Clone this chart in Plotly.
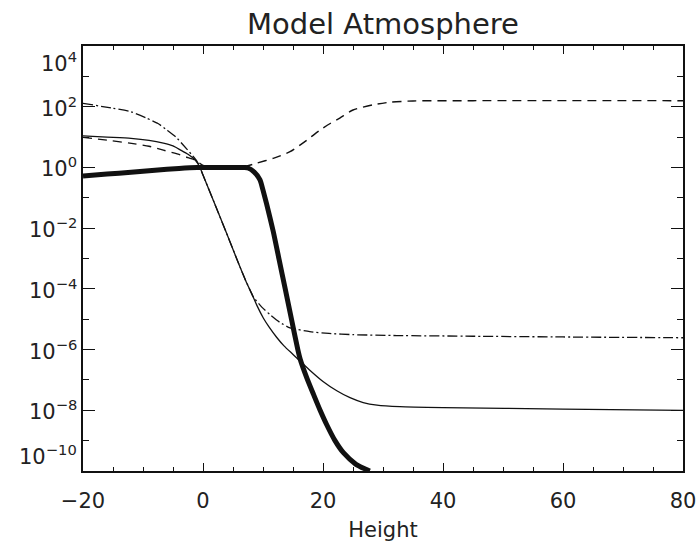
import plotly.graph_objects as go
import math

# ---------------- data ----------------
thick_h = [-20, -16, -12, -8, -4, -1, 2, 5, 7, 7.5, 8.5, 9.5, 10.0, 10.6, 11.7, 12.7,
           13.7, 14.8, 15.8, 16.2, 17.3, 18.4, 19.5, 20.6, 22, 23.4, 25.5, 27.8]
thick_v = [0.525, 0.603, 0.69, 0.81, 0.93, 1.0, 1.0, 1.0, 0.99, 0.955, 0.71, 0.39, 0.178,
           0.063, 7.9e-3, 8.9e-4, 1.0e-4, 8.9e-6, 1.0e-6, 4.8e-7, 1.17e-7, 3.4e-8, 1.02e-8,
           3.4e-9, 1.0e-9, 4.0e-10, 1.66e-10, 1.0e-10]

thin_h = [-20, -16, -12, -9, -6.6, -5, -3.8, -2.5, -1.3, -0.5, 0, 2, 4, 5.6, 7.1, 8.1, 9,
          10.05, 11, 12.3, 13.5, 15.05, 16.2, 17.8, 20, 22.3, 24.5, 26.7, 29, 32.8, 40, 60, 80]
thin_v = [11.0, 10.0, 9.1, 7.8, 6.3, 5.1, 3.8, 2.7, 1.76, 1.0, 0.56, 0.060, 6.3e-3, 1.0e-3,
          1.9e-4, 7.1e-5, 2.8e-5, 1.1e-5, 5.6e-6, 2.5e-6, 1.32e-6, 6.8e-7, 4.1e-7, 2.1e-7,
          8.9e-8, 4.4e-8, 2.6e-8, 1.8e-8, 1.48e-8, 1.32e-8, 1.23e-8, 1.1e-8, 1.0e-8]

dashdot_h = [-20, -15, -12, -9.4, -7.5, -6, -4.5, -3.3, -2, -1.05, -0.5, 0, 2, 4, 5.6, 7.1,
             8.4, 9.8, 11.2, 12.8, 14.5, 17.8, 21, 25, 32.3, 45, 60, 80]
dashdot_v = [129, 89, 68, 42, 28, 17, 10, 5.5, 2.8, 1.66, 1.0, 0.56, 0.060, 6.3e-3, 1.0e-3,
             1.9e-4, 5.4e-5, 2.5e-5, 1.4e-5, 7.9e-6, 5.2e-6, 3.9e-6, 3.4e-6, 3.1e-6, 2.9e-6,
             2.75e-6, 2.6e-6, 2.45e-6]

dashed_h = [-20, -16, -12.2, -9, -6.6, -3.8, -2.5, -1.3, 0, 2, 5, 7, 8.95, 11.7, 14.5, 17.3,
            19.5, 21.2, 22.8, 25, 28.3, 31.2, 35, 45, 80]
dashed_v = [9.8, 7.9, 6.3, 5.0, 3.7, 2.6, 2.1, 1.76, 1.17, 1.02, 1.0, 1.07, 1.38, 2.0, 3.3,
            7.9, 17, 28, 42, 78, 115, 141, 155, 158, 158]

x_tick_vals = [-20, 0, 20, 40, 60, 80]
x_tick_text = ["\u221220", "0", "20", "40", "60", "80"]
y_tick_vals = [1e4, 1e2, 1e0, 1e-2, 1e-4, 1e-6, 1e-8, 1e-10]
y_tick_text = ["10<sup>4</sup>", "10<sup>2</sup>", "10<sup>0</sup>", "10<sup>\u22122</sup>",
               "10<sup>\u22124</sup>", "10<sup>\u22126</sup>", "10<sup>\u22128</sup>",
               "10<sup>\u221210</sup>"]
y_minor_vals = [1e3, 1e1, 1e-1, 1e-3, 1e-5, 1e-7, 1e-9]

title_text = "Model Atmosphere"
x_title = "Height"

# ---------------- figure ----------------
INK = "#111111"
TXT = "#222222"
FONT = "DejaVu Sans"

fig = go.Figure()
fig.add_trace(go.Scatter(x=dashed_h, y=dashed_v, mode="lines",
                         line=dict(color=INK, width=1.4, dash="9px,6px",
                                   shape="spline", smoothing=0.6),
                         showlegend=False, hoverinfo="skip"))
fig.add_trace(go.Scatter(x=dashdot_h, y=dashdot_v, mode="lines",
                         line=dict(color=INK, width=1.3, dash="10px,3px,2px,3px",
                                   shape="spline", smoothing=0.5),
                         showlegend=False, hoverinfo="skip"))
fig.add_trace(go.Scatter(x=thin_h, y=thin_v, mode="lines",
                         line=dict(color=INK, width=1.3, shape="spline", smoothing=0.6),
                         showlegend=False, hoverinfo="skip"))
fig.add_trace(go.Scatter(x=thick_h, y=thick_v, mode="lines",
                         line=dict(color=INK, width=5, shape="spline", smoothing=0.6),
                         showlegend=False, hoverinfo="skip"))

W, H = 698, 542
L, R, T, B = 83, 15, 46, 71

fig.update_layout(
    width=W, height=H,
    margin=dict(l=L, r=R, t=T, b=B, pad=0, autoexpand=False),
    paper_bgcolor="white", plot_bgcolor="white",
    font=dict(family=FONT, size=21, color=TXT),
    title=dict(text=title_text, x=0.5, xref="paper", xanchor="center",
               y=1 - 23.5 / H, yref="container", yanchor="middle",
               font=dict(family=FONT, size=29, color=TXT)),
)

fig.update_xaxes(
    range=[-20, 80], showgrid=False, zeroline=False, automargin=False,
    showline=True, linecolor=INK, linewidth=1.6, mirror="ticks",
    ticks="inside", ticklen=8, tickwidth=1.3, tickcolor=INK,
    tickmode="array", tickvals=x_tick_vals, ticktext=x_tick_text,
    tickfont=dict(family=FONT, size=21, color=TXT),
    ticklabelstandoff=10,
    minor=dict(ticks="inside", ticklen=4, tickwidth=1.3, tickcolor=INK, dtick=5,
               showgrid=False),
    title=dict(text=x_title, font=dict(family=FONT, size=21, color=TXT), standoff=12),
)

fig.update_yaxes(
    type="log", range=[-10, 4], showgrid=False, zeroline=False, automargin=False,
    showline=True, linecolor=INK, linewidth=1.6, mirror="ticks",
    ticks="inside", ticklen=12, tickwidth=1.3, tickcolor=INK,
    tickmode="array", tickvals=y_tick_vals, showticklabels=False,
    minor=dict(ticks="inside", ticklen=6, tickwidth=1.3, tickcolor=INK,
               tickvals=y_minor_vals, showgrid=False),
)

# y tick labels (placed on the y scale; outermost kept inside the frame like the original)
n = len(y_tick_vals)
for i, (v, t) in enumerate(zip(y_tick_vals, y_tick_text)):
    anchor = "top" if i == 0 else ("bottom" if i == n - 1 else "middle")
    fig.add_annotation(x=0, xref="paper", xanchor="right", xshift=-4,
                       y=math.log10(v), yref="y", yanchor=anchor,
                       text=t, showarrow=False,
                       font=dict(family=FONT, size=21, color=TXT))

fig.write_html("out.html")
